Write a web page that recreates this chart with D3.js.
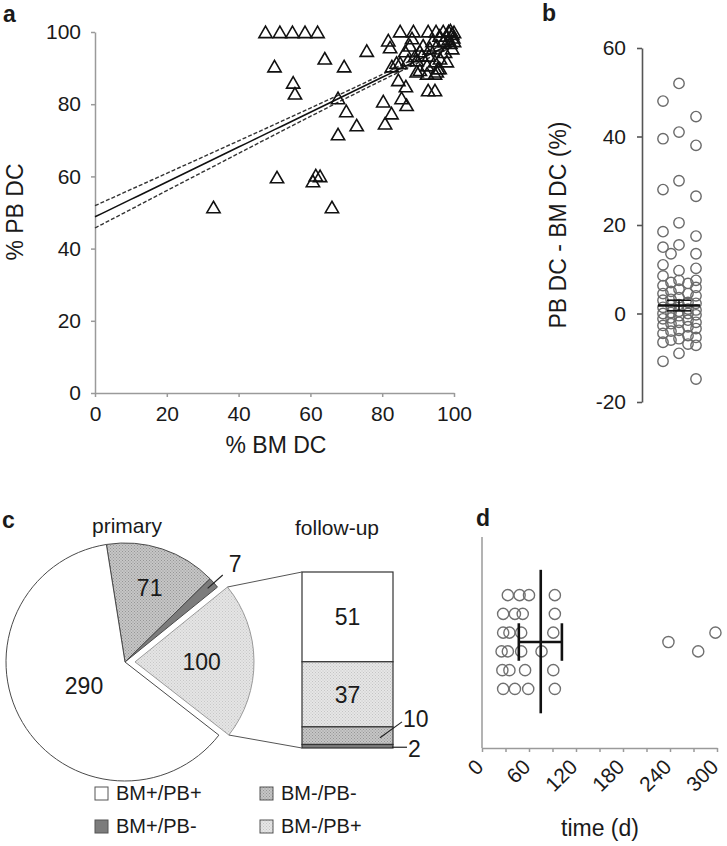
<!DOCTYPE html>
<html>
<head>
<meta charset="utf-8">
<script src="https://cdn.jsdelivr.net/npm/d3@7"></script>
<style>
  body { margin: 0; background: #fff; }
  svg text { font-family: "Liberation Sans", Arial, sans-serif; fill: #1a1a1a; }
</style>
</head>
<body>
<svg id="chart" width="727" height="846"></svg>
<script>
// ---- panel a : % BM DC vs % PB DC ----
const bmDC = [47.5, 51.5, 55, 58.5, 62, 50, 55.2, 55.7, 64, 69.4, 75.7, 67.7, 70, 72.9, 67.7,
  50.7, 60.7, 62.7, 61.5, 33, 66, 80.3, 82.6, 80.8, 85.4, 86.8, 84.5, 86.6, 92.8, 94.7,
  95.2, 89.6, 81.7, 82.2, 85, 88.7, 92.8, 95, 97, 98.5, 99.5, 99.8, 88.3, 82.7, 85,
  87.2, 89.1, 90.5, 91.4, 89.6, 92.5, 94.7, 96.1, 98, 93.3, 95.2, 97, 96, 98, 99,
  99.5, 87.7, 86.4, 91, 93, 94, 97.5, 98.5, 100, 96, 90.5, 84, 100, 99, 95.5, 92.5, 94.7];
const pbDC = [99.5, 99.5, 99.5, 99.5, 99.5, 90, 85.5, 82.5, 92.2, 90, 94.3, 81.2, 77.6, 73.7, 71.2,
  59.3, 58.2, 59.6, 59.8, 51, 51, 80.3, 77, 74.2, 81.2, 79.3, 86.2, 84.5, 83.4, 83.4,
  88.6, 88.6, 97.2, 95.3, 99.7, 99.7, 99.7, 99.7, 99.7, 99.7, 99, 98, 97.8, 90, 90.9,
  91.7, 92.8, 94.2, 95.8, 91.7, 90.3, 91.4, 92.2, 91.4, 95, 95.8, 97, 98.5, 98.5, 96.5,
  95, 95.8, 94.2, 93, 93, 97, 94, 97.5, 97, 89.5, 89, 91, 99.5, 100, 89.5, 88, 88];
// regression
const fitIntercept = 48.8;
const fitSlope = 0.483;
const ciAtMean = 0.8, ciGrowth = 0.036, ciCentre = 83;
const ticksA = [0, 20, 40, 60, 80, 100];

// ---- panel b : PB DC - BM DC ----
const diffValues = [52, 48, 44.5, 41, 39.5, 38, 30, 28, 26.5, 20.5, 18.5, 17.5, 15.5, 15, 13.5,
  13.5, 11, 10.2, 9.7, 8.5, 7.5, 7.5, 7, 6.8, 6.3, 5.9, 5.5, 5, 4.5, 4.5, 4, 3.6, 3.2, 3,
  2.5, 2.3, 2, 1.8, 1.4, 1, 0.8, 0.5, 0.2, 0, 0, -0.3, -0.5, -1, -1.2, -1.5, -2, -2, -2.3,
  -2.7, -3, -3.4, -3.8, -4, -4.5, -5, -5.4, -5.7, -6, -6.5, -6.9, -7.2, -9, -10.8, -14.8];
const diffMean = 1.8, diffSem = 1.2;
const ticksB = [-20, 0, 20, 40, 60];

// ---- panel c : primary pie + follow-up stack ----
const pieCategories = ["BM-/PB-", "BM+/PB-", "BM-/PB+", "BM+/PB+"];
const pieCounts = [71, 7, 100, 290];
const followCategories = ["BM+/PB+", "BM-/PB+", "BM-/PB-", "BM+/PB-"];
const followCounts = [51, 37, 10, 2];
const legendOrder = ["BM+/PB+", "BM-/PB-", "BM+/PB-", "BM-/PB+"];

// ---- panel d : time to follow-up ----
const followDays = [33, 48, 60, 93, 27, 42, 52, 93, 27, 35, 50, 91, 298, 238,
  25, 33, 50, 76, 276, 26, 35, 55, 91, 27, 42, 59, 93];
const followLane = [5, 5, 5, 5, 4, 4, 4, 4, 3, 3, 3, 3, 3, 2.5,
  2, 2, 2, 2, 2, 1, 1, 1, 1, 0, 0, 0, 0];
const daysMean = 75, daysLow = 47, daysHigh = 102;
const ticksD = d3.range(0, 301, 30);

const svg = d3.select("#chart");

const fills = {
  "BM+/PB+": "#ffffff",
  "BM-/PB-": "url(#patMed)",
  "BM+/PB-": "#7c7c7c",
  "BM-/PB+": "url(#patLight)"
};

// textures
const defs = svg.append("defs");
function dotPattern(id, bg, dot) {
  const p = defs.append("pattern").attr("id", id).attr("width", 3).attr("height", 3)
    .attr("patternUnits", "userSpaceOnUse");
  p.append("rect").attr("width", 3).attr("height", 3).attr("fill", bg);
  p.append("rect").attr("x", 0).attr("y", 0).attr("width", 1).attr("height", 1).attr("fill", dot);
  p.append("rect").attr("x", 1.5).attr("y", 1.5).attr("width", 1).attr("height", 1).attr("fill", dot);
}
dotPattern("patMed", "#c6c6c6", "#959595");
dotPattern("patLight", "#e6e6e6", "#c4c4c4");

function styleAxis(g, colour, width) {
  g.select(".domain").attr("stroke", colour).attr("stroke-width", width);
  g.selectAll(".tick line").attr("stroke", colour).attr("stroke-width", width);
  g.selectAll(".tick text").attr("fill", "#1a1a1a").style("font-size", "21px")
    .style("font-family", "'Liberation Sans', Arial, sans-serif");
}

// ================= panel a =================
const xA = d3.scaleLinear().domain([0, 100]).range([95, 454]);
const yA = d3.scaleLinear().domain([0, 100]).range([393, 32]);

const gA = svg.append("g");
gA.append("g").attr("transform", "translate(0,393)")
  .call(d3.axisBottom(xA).tickValues(ticksA).tickSize(4).tickPadding(9).tickSizeOuter(0))
  .call(g => styleAxis(g, "#9a9a9a", 1.5));
gA.append("g").attr("transform", "translate(95,0)")
  .call(d3.axisLeft(yA).tickValues(ticksA).tickSize(4).tickPadding(10).tickSizeOuter(0))
  .call(g => styleAxis(g, "#9a9a9a", 1.5));

const fitXs = d3.range(0, 100.01, 2);
const fit = x => fitIntercept + fitSlope * x;
const ci = x => Math.sqrt(ciAtMean * ciAtMean + Math.pow(ciGrowth * (x - ciCentre), 2));
const lineA = d3.line().x(d => xA(d[0])).y(d => yA(d[1]));

gA.append("path").datum(fitXs.map(x => [x, fit(x) + ci(x)]))
  .attr("d", lineA).attr("fill", "none").attr("stroke", "#333")
  .attr("stroke-width", 1.4).attr("stroke-dasharray", "4,2");
gA.append("path").datum(fitXs.map(x => [x, fit(x) - ci(x)]))
  .attr("d", lineA).attr("fill", "none").attr("stroke", "#333")
  .attr("stroke-width", 1.4).attr("stroke-dasharray", "4,2");
gA.append("path").datum(fitXs.filter(x => x <= 98).map(x => [x, fit(x)]))
  .attr("d", lineA).attr("fill", "none").attr("stroke", "#111").attr("stroke-width", 1.6);

const tri = d3.symbol().type(d3.symbolTriangle).size(76);
gA.selectAll("path.pt").data(bmDC).join("path").attr("class", "pt")
  .attr("d", tri)
  .attr("transform", (d, i) => `translate(${xA(d)},${yA(pbDC[i])})`)
  .attr("fill", "none").attr("stroke", "#111").attr("stroke-width", 1.6);

gA.append("text").attr("x", 276).attr("y", 453).attr("text-anchor", "middle")
  .style("font-size", "23px").text("% BM DC");
gA.append("text").attr("transform", "translate(23,212) rotate(-90)").attr("text-anchor", "middle")
  .style("font-size", "23px").text("% PB DC");
gA.append("text").attr("x", 3).attr("y", 22).style("font-size", "23px")
  .style("font-weight", "bold").text("a");

// ================= panel b =================
const yB = d3.scaleLinear().domain([-20, 60]).range([402, 48]);
const cxB = 679, rB = 5.2;
const gB = svg.append("g");
gB.append("g").attr("transform", "translate(642,0)")
  .call(d3.axisLeft(yB).tickValues(ticksB).tickSize(5).tickPadding(11).tickSizeOuter(0)
    .tickFormat(d => String(d)))
  .call(g => styleAxis(g, "#555", 1.6));

// simple swarm: main columns tried in a rotating order, then in-between columns
const mainCols = [0, -16, 17];
const midCols = [-8, 9];
const placed = [];
diffValues.slice().sort((a, b) => b - a).forEach((v, k) => {
  const y = yB(v);
  const order = mainCols.slice(k % 3).concat(mainCols.slice(0, k % 3), midCols);
  let best = null, bestDist = -1;
  for (const o of order) {
    const x = cxB + o;
    let dmin = Infinity;
    placed.forEach(p => { dmin = Math.min(dmin, Math.hypot(p.x - x, p.y - y)); });
    if (dmin >= 2 * rB + 1) { best = x; bestDist = dmin; break; }
    if (dmin > bestDist) { bestDist = dmin; best = x; }
  }
  placed.push({ x: best, y: y, v: v });
});
gB.selectAll("circle").data(placed).join("circle")
  .attr("cx", d => d.x).attr("cy", d => d.y).attr("r", rB)
  .attr("fill", "none").attr("stroke", "#6a6a6a").attr("stroke-width", 1.4);

gB.append("line").attr("x1", cxB - 21).attr("x2", cxB + 21)
  .attr("y1", yB(diffMean)).attr("y2", yB(diffMean)).attr("stroke", "#111").attr("stroke-width", 2.5);
[diffMean - diffSem, diffMean + diffSem].forEach(v => {
  gB.append("line").attr("x1", cxB - 12).attr("x2", cxB + 12)
    .attr("y1", yB(v)).attr("y2", yB(v)).attr("stroke", "#111").attr("stroke-width", 1.6);
});
gB.append("line").attr("x1", cxB).attr("x2", cxB)
  .attr("y1", yB(diffMean - diffSem)).attr("y2", yB(diffMean + diffSem))
  .attr("stroke", "#111").attr("stroke-width", 1.6);

gB.append("text").attr("transform", "translate(566,225) rotate(-90)").attr("text-anchor", "middle")
  .style("font-size", "23px").text("PB DC - BM DC (%)");
gB.append("text").attr("x", 542).attr("y", 21).style("font-size", "23px")
  .style("font-weight", "bold").text("b");

// ================= panel c =================
const gC = svg.append("g");
const pieCx = 125, pieCy = 662, pieR = 119, explode = 10;
const deg = Math.PI / 180;
const pie = d3.pie().sort(null).startAngle(-9 * deg).endAngle(351 * deg);
const arcs = pie(pieCounts);
const arc = d3.arc().innerRadius(0).outerRadius(pieR);
const shift = d => {
  if (pieCategories[d.index] !== "BM-/PB+") return [0, 0];
  const m = (d.startAngle + d.endAngle) / 2;
  return [Math.sin(m) * explode, -Math.cos(m) * explode];
};

gC.selectAll("path.slice").data(arcs).join("path").attr("class", "slice")
  .attr("d", arc)
  .attr("transform", d => { const s = shift(d); return `translate(${pieCx + s[0]},${pieCy + s[1]})`; })
  .attr("fill", d => fills[pieCategories[d.index]])
  .attr("stroke", d => pieCategories[d.index] === "BM-/PB+" ? "#9a9a9a" : "#4a4a4a")
  .attr("stroke-width", 1);

// labels inside slices (radius as fraction of pie radius)
const labelRadius = { "BM-/PB-": 0.66, "BM-/PB+": 0.56, "BM+/PB+": 0.4 };
arcs.forEach(d => {
  const cat = pieCategories[d.index];
  const m = (d.startAngle + d.endAngle) / 2;
  const s = shift(d);
  if (labelRadius[cat]) {
    const r = labelRadius[cat] * pieR;
    gC.append("text").attr("x", pieCx + s[0] + Math.sin(m) * r)
      .attr("y", pieCy + s[1] - Math.cos(m) * r).attr("dy", "0.36em")
      .attr("text-anchor", "middle").style("font-size", "23px").text(d.data);
  } else {
    const p = k => [pieCx + Math.sin(m) * k * pieR, pieCy - Math.cos(m) * k * pieR];
    const a = p(0.93), b = p(1.1), t = p(1.24);
    gC.append("line").attr("x1", a[0]).attr("y1", a[1]).attr("x2", b[0]).attr("y2", b[1])
      .attr("stroke", "#222").attr("stroke-width", 1.2);
    gC.append("text").attr("x", t[0]).attr("y", t[1]).attr("dy", "0.36em")
      .attr("text-anchor", "middle").style("font-size", "23px").text(d.data);
  }
});

// follow-up stacked bar
const barX0 = 302, barW = 91;
const yC = d3.scaleLinear().domain([0, d3.sum(followCounts)]).range([572, 748]);
let acc = 0;
const stack = followCounts.map((v, i) => { const s = { cat: followCategories[i], v: v, y0: acc, y1: acc + v }; acc += v; return s; });
gC.selectAll("rect.seg").data(stack).join("rect").attr("class", "seg")
  .attr("x", barX0).attr("width", barW)
  .attr("y", d => yC(d.y0)).attr("height", d => yC(d.y1) - yC(d.y0))
  .attr("fill", d => fills[d.cat]).attr("stroke", "#333").attr("stroke-width", 1.2);

// connectors from exploded slice to the bar
const exploded = arcs.find(d => pieCategories[d.index] === "BM-/PB+");
const es = shift(exploded);
const edge = a => [pieCx + es[0] + Math.sin(a) * pieR, pieCy + es[1] - Math.cos(a) * pieR];
const e0 = edge(exploded.startAngle), e1 = edge(exploded.endAngle);
gC.append("line").attr("x1", e0[0]).attr("y1", e0[1]).attr("x2", barX0).attr("y2", yC(0))
  .attr("stroke", "#555").attr("stroke-width", 1);
gC.append("line").attr("x1", e1[0]).attr("y1", e1[1]).attr("x2", barX0).attr("y2", yC(acc))
  .attr("stroke", "#555").attr("stroke-width", 1);

stack.forEach(d => {
  const mid = (yC(d.y0) + yC(d.y1)) / 2;
  if (d.v >= 20) {
    gC.append("text").attr("x", barX0 + barW / 2).attr("y", mid).attr("dy", "0.36em")
      .attr("text-anchor", "middle").style("font-size", "23px").text(d.v);
  }
});
// small segments labelled outside with leader lines
const seg10 = stack[2], seg2 = stack[3];
gC.append("line").attr("x1", barX0 + barW - 13).attr("y1", (yC(seg10.y0) + yC(seg10.y1)) / 2 + 2)
  .attr("x2", barX0 + barW + 9).attr("y2", yC(seg10.y0) - 5).attr("stroke", "#222").attr("stroke-width", 1.2);
gC.append("text").attr("x", barX0 + barW + 10).attr("y", yC(seg10.y0) - 8).attr("dy", "0.36em")
  .style("font-size", "23px").text(seg10.v);
gC.append("line").attr("x1", barX0 + barW - 1).attr("y1", (yC(seg2.y0) + yC(seg2.y1)) / 2 + 1)
  .attr("x2", barX0 + barW + 14).attr("y2", (yC(seg2.y0) + yC(seg2.y1)) / 2 + 1)
  .attr("stroke", "#222").attr("stroke-width", 1.2);
gC.append("text").attr("x", barX0 + barW + 15).attr("y", (yC(seg2.y0) + yC(seg2.y1)) / 2 + 2)
  .attr("dy", "0.36em").style("font-size", "23px").text(seg2.v);

gC.append("text").attr("x", 127).attr("y", 533).attr("text-anchor", "middle")
  .style("font-size", "21px").text("primary");
gC.append("text").attr("x", 337).attr("y", 535).attr("text-anchor", "middle")
  .style("font-size", "21px").text("follow-up");
gC.append("text").attr("x", 2).attr("y", 528).style("font-size", "23px")
  .style("font-weight", "bold").text("c");

// legend
const legend = gC.selectAll("g.leg").data(legendOrder).join("g").attr("class", "leg")
  .attr("transform", (d, i) => `translate(${i % 2 ? 260 : 95},${i < 2 ? 787 : 820})`);
legend.append("rect").attr("width", 13).attr("height", 13)
  .attr("fill", d => fills[d]).attr("stroke", "#555").attr("stroke-width", 1);
legend.append("text").attr("x", 21).attr("y", 13).style("font-size", "20px").text(d => d);

// ================= panel d =================
const xD = d3.scaleLinear().domain([0, 300]).range([482, 717]);
const yD = d3.scaleLinear().domain([-3.15, 8.1]).range([748, 537]);
const gD = svg.append("g");
gD.append("line").attr("x1", 482).attr("x2", 482).attr("y1", 537).attr("y2", 748)
  .attr("stroke", "#9a9a9a").attr("stroke-width", 1.5);
gD.append("g").attr("transform", "translate(0,748)")
  .call(d3.axisBottom(xD).tickValues(ticksD).tickSize(4).tickSizeOuter(0)
    .tickFormat(d => d % 60 === 0 ? d : ""))
  .call(g => styleAxis(g, "#9a9a9a", 1.5))
  .call(g => g.selectAll(".tick text")
    .attr("text-anchor", "end").attr("dy", "0.35em")
    .attr("transform", "translate(-3,15) rotate(-45)").attr("y", 0).attr("x", 0));

gD.selectAll("circle").data(followDays).join("circle")
  .attr("cx", d => xD(d)).attr("cy", (d, i) => yD(followLane[i])).attr("r", 5.6)
  .attr("fill", "none").attr("stroke", "#707070").attr("stroke-width", 1.4);

const laneMid = 2.5;
gD.append("line").attr("x1", xD(daysMean)).attr("x2", xD(daysMean))
  .attr("y1", yD(6.35)).attr("y2", yD(-1.3)).attr("stroke", "#111").attr("stroke-width", 2.6);
gD.append("line").attr("x1", xD(daysLow)).attr("x2", xD(daysHigh))
  .attr("y1", yD(laneMid)).attr("y2", yD(laneMid)).attr("stroke", "#111").attr("stroke-width", 2.6);
[daysLow, daysHigh].forEach(v => {
  gD.append("line").attr("x1", xD(v)).attr("x2", xD(v))
    .attr("y1", yD(laneMid + 1)).attr("y2", yD(laneMid - 1)).attr("stroke", "#111").attr("stroke-width", 2.6);
});

gD.append("text").attr("x", 600).attr("y", 836).attr("text-anchor", "middle")
  .style("font-size", "23px").text("time (d)");
gD.append("text").attr("x", 476).attr("y", 526).style("font-size", "23px")
  .style("font-weight", "bold").text("d");
</script>
</body>
</html>
